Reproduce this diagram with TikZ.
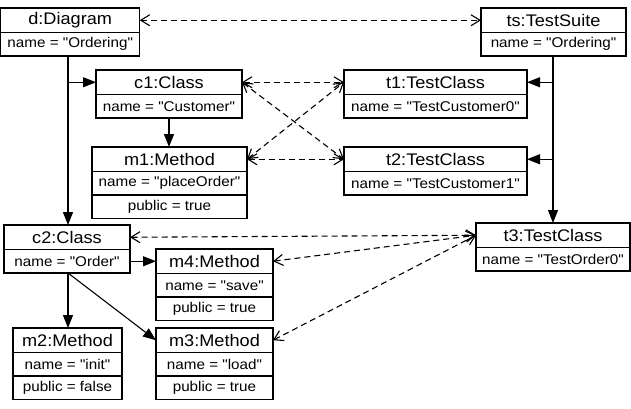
\documentclass[tikz,border=0pt]{standalone}
\usepackage{fontspec}
\setmainfont{Liberation Sans}[FakeStretch=1.08, Ligatures=TeXOff]
\usetikzlibrary{arrows.meta,calc}
\begin{document}
\begin{tikzpicture}[x=1pt,y=-1pt,
  every node/.style={inner sep=0pt, outer sep=0pt},
  hdr/.style={draw, line width=1.1pt, anchor=north west, minimum width=#1, minimum height=24.5pt, font=\fontsize{16.8}{18}\selectfont},
  att/.style={draw, line width=1.1pt, anchor=north west, minimum width=#1, minimum height=23.5pt, font=\fontsize{14.1}{15}\selectfont},
  link/.style={line width=1.1pt, -{Triangle[length=13pt,width=10pt]}},
  trace/.style={line width=1.1pt, dash pattern=on 6pt off 4pt, {Straight Barb[length=9pt,width=11pt,line width=1.1pt]}-{Straight Barb[length=9pt,width=11pt,line width=1.1pt]}}
]
\useasboundingbox (0,0) rectangle (631,408);
% objects
\node[hdr=139] (d) at (0.7,8) {d:Diagram};
\node[att=139] (dA) at (d.south west) {name = "Ordering"};
\node[hdr=146] (c1) at (96,70) {c1:Class};
\node[att=146] (c1A) at (c1.south west) {name = "Customer"};
\node[hdr=155] (m1) at (92,147) {m1:Method};
\node[att=155] (m1A) at (m1.south west) {name = "placeOrder"};
\node[att=155] (m1B) at (m1A.south west) {public = true};
\node[hdr=145] (ts) at (481,8) {ts:TestSuite};
\node[att=145] (tsA) at (ts.south west) {name = "Ordering"};
\node[hdr=183] (t1) at (344,70) {t1:TestClass};
\node[att=183] (t1A) at (t1.south west) {name = "TestCustomer0"};
\node[hdr=183] (t2) at (344,147) {t2:TestClass};
\node[att=183] (t2A) at (t2.south west) {name = "TestCustomer1"};
\node[hdr=126] (c2) at (4,225) {c2:Class};
\node[att=126] (c2A) at (c2.south west) {name = "Order"};
\node[hdr=117] (m4) at (156,249) {m4:Method};
\node[att=117] (m4A) at (m4.south west) {name = "save"};
\node[att=117] (m4B) at (m4A.south west) {public = true};
\node[hdr=109] (m2) at (13,328) {m2:Method};
\node[att=109] (m2A) at (m2.south west) {name = "init"};
\node[att=109] (m2B) at (m2A.south west) {public = false};
\node[hdr=117] (m3) at (156,328) {m3:Method};
\node[att=117] (m3A) at (m3.south west) {name = "load"};
\node[att=117] (m3B) at (m3A.south west) {public = true};
\node[hdr=154] (t3) at (476,223) {t3:TestClass};
\node[att=154] (t3A) at (t3.south west) {name = "TestOrder0"};
% solid links
\coordinate (db) at (68,56);
\draw[link] (db) -- (db |- c2.north);
\draw[link] (db |- c1.west) -- (c1.west);
\draw[link] (c1A.south -| 169,0) -- (m1.north -| 169,0);
\coordinate (tsb) at (553,56);
\draw[link] (tsb) -- (tsb |- t3.north);
\draw[link] (tsb |- t1.east) -- (t1.east);
\draw[link] (tsb |- t2.east) -- (t2.east);
\draw[link] (c2A.east) -- (c2A.east -| m4.west);
\coordinate (cb) at (68,273);
\draw[link] (cb) -- (cb |- m2.north);
\draw[link] (cb) -- (m3.west);
% trace links
\draw[trace] (d.east) -- (ts.west);
\draw[trace] (c1.east) -- (t1.west);
\draw[trace] (m1.east) -- (t2.west);
\draw[trace] (c1.east) -- (t2.west);
\draw[trace] (m1.east) -- (t1.west);
\draw[trace] (c2.east) -- (t3.west);
\draw[trace] (m4.east) -- (t3.west);
\draw[trace] (m3.east) -- (t3.west);
\end{tikzpicture}
\end{document}
